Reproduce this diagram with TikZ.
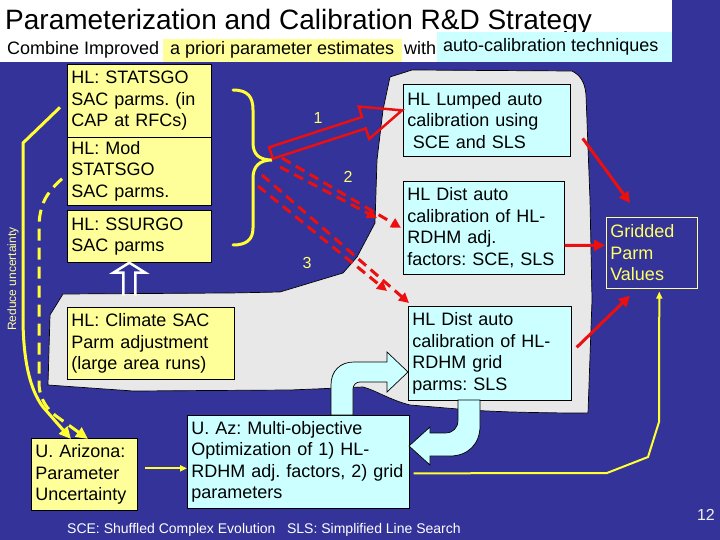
\documentclass[tikz,border=0pt]{standalone}
\usepackage{fontspec}
\setmainfont{Liberation Sans}
\usetikzlibrary{arrows.meta,calc}
\definecolor{bg}{RGB}{51,51,153}
\definecolor{boxy}{RGB}{255,255,153}
\definecolor{boxc}{RGB}{204,255,255}
\definecolor{grayreg}{RGB}{232,232,232}
\definecolor{lineY}{RGB}{255,255,51}
\definecolor{txtY}{RGB}{255,255,102}
\definecolor{redA}{RGB}{235,15,15}
\tikzset{
  bx/.style={draw=black, line width=0.7pt, inner sep=4pt, align=left, anchor=north west,
    font=\fontsize{18}{21.5}\selectfont\frenchspacing, text=black},
  ybox/.style={bx, fill=boxy},
  cbox/.style={bx, fill=boxc},
  redarr/.style={draw=redA, line width=3pt, -{Triangle[length=11pt,width=11pt]}},
  reddash/.style={draw=redA, line width=3pt, dash pattern=on 10pt off 6pt, -{Triangle[length=10pt,width=10pt]}},
  yline/.style={draw=lineY, line width=3pt, line join=round},
  ythin/.style={draw=lineY, line width=2pt, line join=round, -{Triangle[length=7pt,width=6pt]}},
  cyarrow/.style={draw=black, line width=0.7pt, fill=boxc, line join=miter},
  ylab/.style={text=txtY, font=\fontsize{16}{18}\selectfont, inner sep=0pt},
}
\begin{document}
\frenchspacing
\begin{tikzpicture}[x=1pt,y=-1pt]
\useasboundingbox (0,0) rectangle (720,540);
\fill[bg] (0,0) rectangle (720,540);
\fill[white] (0,0) rectangle (672,62);
% title
\node[anchor=base west, inner sep=0pt, font=\fontsize{28}{32}\selectfont] (title) at (5,30) {Parameterization and Calibration R\&D Strategy};
% subtitle highlights
\fill[boxy] (163,39) rectangle (402,62);
\fill[boxc] (437,32) rectangle (672,62);
\node[anchor=base west, inner sep=0pt, font=\fontsize{18}{21}\selectfont] (sub1) at (7,55) {Combine Improved};
\node[anchor=base west, inner sep=0pt, font=\fontsize{18}{21}\selectfont] (sub2) at (170,55) {a priori parameter estimates};
\node[anchor=base west, inner sep=0pt, font=\fontsize{18}{21}\selectfont] (sub3) at (404,55) {with};
\node[anchor=base west, inner sep=0pt, font=\fontsize{18}{21}\selectfont] (sub4) at (443,52) {auto-calibration techniques};
% gray region
\draw[fill=grayreg, draw=black, line width=0.7pt]
 (390,77) -- (412,70) -- (572,71) .. controls (580,75) and (585,82) .. (586,95)
 -- (590,200) -- (592,300) -- (588,413) .. controls (540,413) and (500,412) .. (470,410)
 -- (410,405) .. controls (390,400) and (375,390) .. (363,387) -- (290,390) -- (133,391)
 -- (48,385) -- (50,315) -- (63,294) -- (230,293) -- (280,292) -- (343,273) -- (357,257)
 -- (375,223) -- (377,160) -- (383,110) -- cycle;
% boxes
\node[ybox, text width=136pt, minimum height=73pt] (statsgo) at (67,64) {HL: STATSGO\\SAC parms. (in\\CAP at RFCs)};
\node[ybox, text width=136pt, minimum height=67pt] (mod) at (67,137) {HL: Mod\\STATSGO\\SAC parms.};
\node[ybox, text width=136pt, minimum height=52pt] (ssurgo) at (67,210) {HL: SSURGO\\SAC parms};
\node[ybox, text width=159pt, minimum height=72pt] (climate) at (67,307) {HL: Climate SAC\\Parm adjustment\\(large area runs)};
\node[ybox, text width=98pt, minimum height=72pt] (ariz) at (31,438) {U. Arizona:\\Parameter\\Uncertainty};
\node[cbox, text width=214pt, minimum height=93pt] (uaz) at (187,415) {U. Az: Multi-objective\\Optimization of 1) HL-\\RDHM adj. factors, 2) grid\\parameters};
\node[cbox, text width=159pt, minimum height=72pt] (lumped) at (403,84) {HL Lumped auto\\calibration using\\\hspace*{0.3em}SCE and SLS};
\node[cbox, text width=153pt, minimum height=93pt] (distadj) at (403,181) {HL Dist auto\\calibration of HL-\\RDHM adj.\\factors: SCE, SLS};
\node[cbox, text width=155pt, minimum height=94pt] (distgrid) at (408,306) {HL Dist auto\\calibration of HL-\\RDHM grid\\parms: SLS};
\node[bx, draw=boxy, line width=0.6pt, text=txtY, text width=83pt, minimum height=71pt] (grid) at (606,217) {Gridded\\Parm\\Values};
% brace
\coordinate (bracetip) at (272,160);
\draw[draw=lineY, line width=3pt, line cap=round]
 (233,90) .. controls (248,90) and (253,97) .. (253,110) -- (253,143)
 .. controls (253,155) and (260,160) .. (bracetip)
 .. controls (260,160) and (253,166) .. (253,178) -- (253,228)
 .. controls (253,240) and (246,245) .. (233,245);
% block arrow 1
\coordinate (t1) at (271,153);
\coordinate (p1) at ($(lumped.west)+(-1,-10)$);
\coordinate (b1) at ($(p1)!40pt!(t1)$);
\draw[draw=redA, line width=2.5pt, line join=miter]
 ($(t1)!6pt!90:(p1)$) -- ($(b1)!6pt!-90:(t1)$) -- ($(b1)!17pt!-90:(t1)$) -- (p1)
 -- ($(b1)!17pt!90:(t1)$) -- ($(b1)!6pt!90:(t1)$) -- ($(t1)!6pt!-90:(p1)$) -- cycle;
% dashed red arrows
\draw[reddash] (282,158) -- ($(distadj.west)+(-2,0)$);
\draw[reddash] (280,167) -- (377,218);
\draw[reddash] (262,175) -- ($(distgrid.north west)+(1,-3)$);
\draw[reddash] (258,186) -- (387,291);
% labels
\node[ylab] (n1) at (318,118) {1};
\node[ylab] (n2) at (348,177) {2};
\node[ylab] (n3) at (307,263) {3};
% red solid arrows
\draw[redarr] ($(lumped.east)+(12,18)$) -- ($(grid.north west)+(24,-14)$);
\draw[redarr] ($(distadj.east)+(0,17.5)$) -- ($(grid.west)+(-1,-7.5)$);
\draw[redarr] ($(distgrid.east)+(5,-6)$) -- ($(grid.south west)+(24,7)$);
% white hollow arrow
\coordinate (wt) at ($(ssurgo.south)+(-10,0)$);
\draw[draw=white, line width=2.5pt, line join=miter]
 ($(wt)+(-6,33)$) -- ($(wt)+(-6,10)$) -- ($(wt)+(-16,10)$) -- (wt) -- ($(wt)+(16,10)$)
 -- ($(wt)+(6,10)$) -- ($(wt)+(6,33)$);
% yellow lines on the left
\draw[yline, -{Triangle[length=12pt,width=11pt]}] ($(statsgo.west)+(-7,6.5)$) -- (23,143) -- (23,317)
 .. controls (23,360) and (30,390) .. (43,407) -- ($(ariz.north west)+(40,1)$);
\draw[yline, dash pattern=on 12pt off 7pt, -{Triangle[length=12pt,width=11pt]}] ($(mod.west)+(-5,7.5)$)
 .. controls (50,190) and (40,200) .. (39,225) -- (39,385)
 .. controls (40,400) and (48,410) .. (56,416) -- ($(ariz.north west)+(57,1)$);
\node[rotate=90, text=boxy, font=\fontsize{12}{14}\selectfont, inner sep=0pt] (reduce) at (13,279) {Reduce uncertainty};
% yellow thin arrows
\draw[ythin] ($(ariz.east)+(7,-6)$) -- ($(uaz.west)+(0,6.5)$);
\draw[ythin] ($(uaz.east)+(4,11.5)$) -- (607,473) -- (648,457) -- (659,422) -- ($(grid.south)+(7.5,3)$);
% cyan curved arrows
\draw[cyarrow] (331,415) -- (331,385) .. controls (331,371) and (340,362) .. (354,362) -- (387,362)
 -- (387,352) -- (408,372) -- (387,392) -- (387,382) -- (360,382)
 .. controls (356,382) and (353,385) .. (353,389) -- (353,415) -- cycle;
\draw[cyarrow] (458,400) -- (458,420) .. controls (458,428) and (453,433) .. (445,433) -- (430,433)
 -- (430,427) -- (409,446) -- (430,465) -- (430,456) -- (450,456)
 .. controls (468,456) and (480,444) .. (480,426) -- (480,400) -- cycle;
% footer
\node[anchor=base west, inner sep=0pt, text=white, font=\fontsize{14}{16}\selectfont] (foot) at (67,533) {SCE: Shuffled Complex Evolution\ \ \ SLS: Simplified Line Search};
\node[anchor=base east, inner sep=0pt, text=white!90!gray, font=\fontsize{16}{18}\selectfont] (pg) at (715,520) {12};
\end{tikzpicture}
\end{document}
